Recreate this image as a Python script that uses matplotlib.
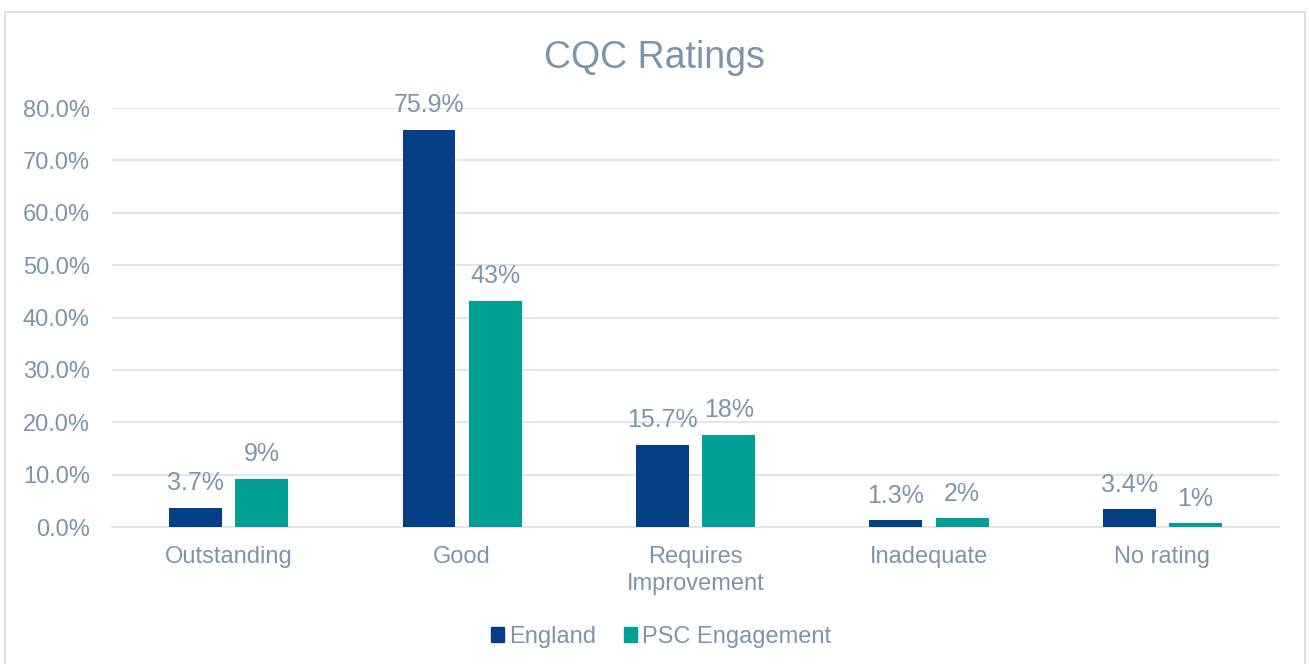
import matplotlib
matplotlib.use("Agg")
import matplotlib.pyplot as plt
import numpy as np
from matplotlib.lines import Line2D

plt.rcParams['font.family'] = ['Liberation Sans', 'DejaVu Sans']

# data
categories = ["Outstanding", "Good", "Requires\nImprovement", "Inadequate", "No rating"]
england = [3.7, 75.9, 15.7, 1.3, 3.4]
psc = [9.2, 43.2, 17.6, 1.7, 0.7]
yticks = [0, 10, 20, 30, 40, 50, 60, 70, 80]

c_eng = "#053F85"
c_psc = "#00A096"
c_text = "#7D95AA"
c_grid = "#DFE4E9"

fig = plt.figure(figsize=(13.09, 6.64), dpi=100)
ax = fig.add_axes([0.0856, 0.2063, 0.8915, 0.631])

x = np.arange(len(categories))
w = 0.227
off = 0.142
b1 = ax.bar(x - off, england, w, color=c_eng, zorder=3)
b2 = ax.bar(x + off, psc, w, color=c_psc, zorder=3)

# data labels
for rect, v in zip(b1, england):
    ax.annotate(f"{v:.1f}%", (rect.get_x() + rect.get_width() / 2, rect.get_height()),
                xytext=(0, 9), textcoords="offset points", ha="center", va="bottom",
                fontsize=18, color=c_text)
for rect, v in zip(b2, psc):
    ax.annotate(f"{v:.0f}%", (rect.get_x() + rect.get_width() / 2, rect.get_height()),
                xytext=(0, 9), textcoords="offset points", ha="center", va="bottom",
                fontsize=18, color=c_text)

ax.set_xlim(-0.5, len(categories) - 0.5)
ax.set_ylim(0, 80)
ax.set_yticks(yticks)
ax.set_yticklabels([f"{t:.1f}%" for t in yticks])
ax.set_xticks(x)
ax.set_xticklabels(categories, linespacing=1.25)
ax.tick_params(axis="both", length=0, labelsize=17, labelcolor=c_text)
ax.tick_params(axis="y", pad=16)
ax.tick_params(axis="x", pad=14)
ax.grid(axis="y", color=c_grid, linewidth=1.3, zorder=0)
for s in ["top", "right", "left"]:
    ax.spines[s].set_visible(False)
ax.spines["bottom"].set_color(c_grid)
ax.spines["bottom"].set_linewidth(1.3)

fig.text(0.5, 0.913, "CQC Ratings", ha="center", va="center", fontsize=27, color=c_text)

handles = [plt.Rectangle((0, 0), 1, 1, color=c_eng), plt.Rectangle((0, 0), 1, 1, color=c_psc)]
fig.legend(handles, ["England", "PSC Engagement"], loc="center", bbox_to_anchor=(0.505, 0.041),
           ncol=2, frameon=False, fontsize=17, labelcolor=c_text,
           handlelength=0.55, handleheight=0.55, handletextpad=0.2, columnspacing=1.2)

# outer chart border
fig.add_artist(Line2D([5 / 1309, 5 / 1309, 1305 / 1309, 1305 / 1309], [0, 1 - 12 / 664, 1 - 12 / 664, 0],
                      transform=fig.transFigure, color="#D9D9D9", linewidth=1.2))

fig.savefig("out.png", dpi=100)
